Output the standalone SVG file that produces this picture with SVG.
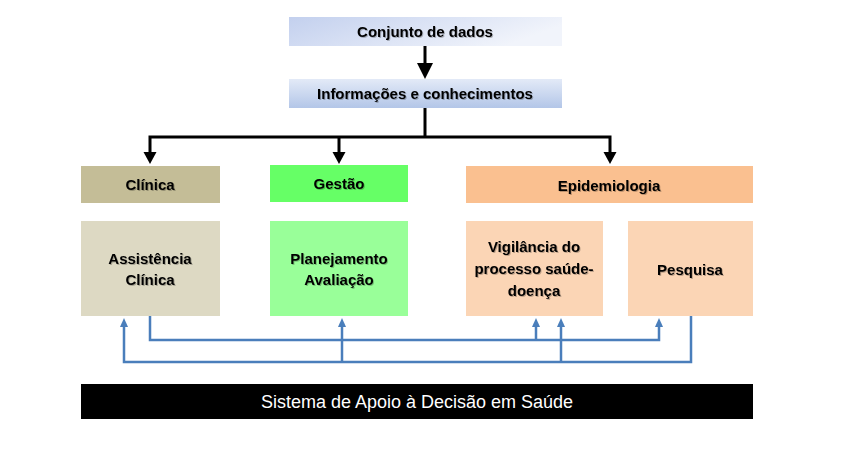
<svg xmlns="http://www.w3.org/2000/svg" width="851" height="454" viewBox="0 0 851 454">
<defs>
<linearGradient id="g1" x1="0" y1="0" x2="1" y2="0.3">
<stop offset="0" stop-color="#c3d0ee"/>
<stop offset="1" stop-color="#f1f4fb"/>
</linearGradient>
<linearGradient id="g2" x1="0" y1="0" x2="0" y2="1">
<stop offset="0" stop-color="#e3eaf7"/>
<stop offset="1" stop-color="#b3c6e8"/>
</linearGradient>
<filter id="sh" x="-5%" y="-20%" width="110%" height="140%">
<feDropShadow dx="1" dy="1" stdDeviation="0.6" flood-color="#000" flood-opacity="0.25"/>
</filter>
</defs>
<style>
.t{font-family:"Liberation Sans",Arial,sans-serif;font-weight:bold;font-size:15px;fill:#000;text-anchor:middle;filter:url(#sh)}
.k{stroke:#000;stroke-width:3;fill:none}
.ka{fill:#000}
.b{stroke:#4a7ebb;stroke-width:2.5;fill:none}
.ba{fill:#4a7ebb}
</style>
<rect width="851" height="454" fill="#fff"/>
<g id="connectors">
<line class="k" x1="425" y1="46" x2="425" y2="65"/>
<polygon class="ka" points="417,63 433,63 425,79"/>
<line class="k" x1="425" y1="108" x2="425" y2="137"/>
<polyline class="k" points="150,153 150,137 610,137 610,153"/>
<line class="k" x1="339" y1="137" x2="339" y2="153"/>
<polygon class="ka" points="143.5,152 156.5,152 150,164"/>
<polygon class="ka" points="332.5,152 345.5,152 339,164"/>
<polygon class="ka" points="603.5,152 616.5,152 610,164"/>
<polyline class="b" points="150,316 150,340 659,340 659,325"/>
<line class="b" x1="536" y1="340" x2="536" y2="325"/>
<polyline class="b" points="124,325 124,362 691,362 691,316"/>
<line class="b" x1="342" y1="362" x2="342" y2="325"/>
<line class="b" x1="561" y1="362" x2="561" y2="325"/>
<polygon class="ba" points="120,327 128,327 124,318"/>
<polygon class="ba" points="338,327 346,327 342,318"/>
<polygon class="ba" points="532,327 540,327 536,318"/>
<polygon class="ba" points="557,327 565,327 561,318"/>
<polygon class="ba" points="655,327 663,327 659,318"/>
</g>
<g id="n-conjunto">
<rect x="289" y="17" width="273" height="29" fill="url(#g1)"/>
<text class="t" x="425" y="37">Conjunto de dados</text>
</g>
<g id="n-info">
<rect x="289" y="79" width="273" height="29" fill="url(#g2)"/>
<text class="t" x="425" y="99">Informações e conhecimentos</text>
</g>
<g id="n-clinica">
<rect x="81" y="166" width="139" height="37" fill="#c4bd97"/>
<text class="t" x="150" y="190">Clínica</text>
</g>
<g id="n-gestao">
<rect x="270" y="165" width="138" height="37" fill="#66ff66"/>
<text class="t" x="339" y="189">Gestão</text>
</g>
<g id="n-epi">
<rect x="466" y="166" width="287" height="37" fill="#fac090"/>
<text class="t" x="609" y="191">Epidemiologia</text>
</g>
<g id="n-assist">
<rect x="81" y="221" width="139" height="95" fill="#ddd9c3"/>
<text class="t" x="150" y="264">Assistência</text>
<text class="t" x="150" y="285">Clínica</text>
</g>
<g id="n-plan">
<rect x="270" y="221" width="138" height="95" fill="#99ff99"/>
<text class="t" x="339" y="264">Planejamento</text>
<text class="t" x="339" y="285">Avaliação</text>
</g>
<g id="n-vig">
<rect x="466" y="221" width="137" height="95" fill="#fbd5b5"/>
<text class="t" x="534" y="252">Vigilância do</text>
<text class="t" x="534" y="274">processo saúde-</text>
<text class="t" x="534" y="296">doença</text>
</g>
<g id="n-pesq">
<rect x="628" y="221" width="125" height="95" fill="#fbd5b5"/>
<text class="t" x="690" y="275">Pesquisa</text>
</g>
<g id="n-sad">
<rect x="81" y="384" width="672" height="35" fill="#000"/>
<text x="417" y="408" style="font-family:'Liberation Sans',Arial,sans-serif;font-size:18px;fill:#fff;text-anchor:middle">Sistema de Apoio à Decisão em Saúde</text>
</g>
</svg>
